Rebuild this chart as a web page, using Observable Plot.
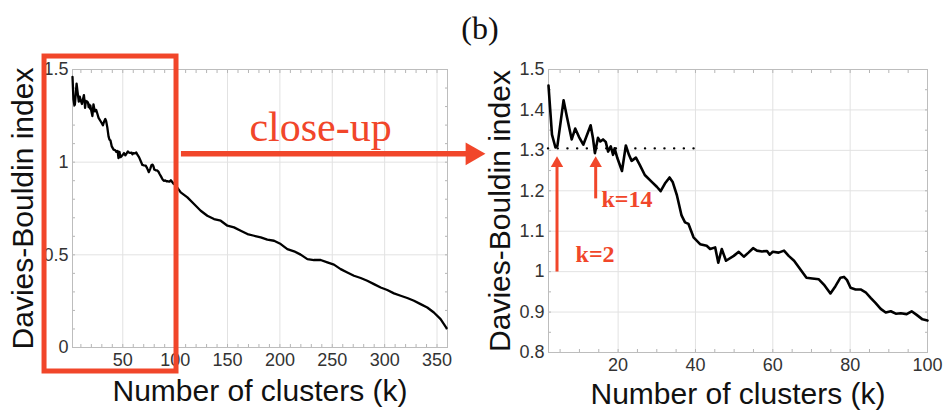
<!DOCTYPE html>
<html><head><meta charset="utf-8">
<script src="https://cdn.jsdelivr.net/npm/d3@7"></script>
<script src="https://cdn.jsdelivr.net/npm/@observablehq/plot@0.6"></script>
<style>
body{margin:0;background:#fff;}
#wrap{position:relative;width:948px;height:414px;overflow:hidden;background:#fff;}
#title{position:absolute;left:0;width:960px;top:8px;text-align:center;font-family:"Liberation Serif","Times New Roman",serif;font-size:32px;line-height:40px;color:#111;z-index:3}
#left{position:absolute;left:0;top:0;z-index:2}
#right{position:absolute;left:480px;top:0;z-index:1}
svg{overflow:visible;}
</style></head>
<body><div id="wrap"><div id="right"></div><div id="left"></div><div id="title">(b)</div></div>
<script>
// ---- data ----
const kNear = [2.0,2.9,3.8,4.3,5.9,6.8,8.0,8.9,9.9,11.0,12.9,13.5,14.0,14.8,15.4,16.1,16.8,17.4,18.1,18.7,19.1,19.8,21.0,22.0,22.8,23.5,24.6,25.6,26.9,28.7,30.0,31.0,32.1,33.3,34.1,35.2,36.4,37.3,38.2,39.5,41.2,42.9,43.8,45.1,45.9,46.8,47.9,49.9,51.2,52.5,53.7,54.9,55.9,57.2,58.5,59.2,60.0,61.5,62.9,64.1,65.5,67.1,68.7,70.2,71.9,73.2,74.9,76.2,77.5,78.4,79.2,80.1,81.4,82.7,84.0,85.3,86.6,87.9,89.2,90.5,91.8,93.1,94.6,95.9,97.2,98.7,100];
const dbNear = [1.46,1.339,1.307,1.311,1.424,1.381,1.327,1.354,1.333,1.314,1.362,1.33,1.293,1.331,1.322,1.327,1.321,1.297,1.31,1.289,1.305,1.281,1.249,1.312,1.289,1.274,1.282,1.264,1.239,1.222,1.21,1.199,1.218,1.233,1.222,1.189,1.139,1.122,1.118,1.085,1.068,1.064,1.056,1.06,1.022,1.056,1.027,1.039,1.049,1.037,1.047,1.058,1.052,1.05,1.051,1.042,1.049,1.047,1.052,1.039,1.027,1.006,0.985,0.983,0.981,0.968,0.946,0.964,0.985,0.987,0.979,0.96,0.956,0.956,0.949,0.935,0.922,0.908,0.899,0.902,0.896,0.897,0.895,0.902,0.893,0.882,0.879];
const kFar = [105.3,111.7,118,124.4,130.7,137.1,143.5,149.9,156.2,162.6,169,175.3,181.7,188,194.4,200.8,207.1,213.5,219.8,226.2,232.5,238.9,245.3,251.6,258,264.4,270.7,277.1,283.4,289.8,296.2,302.5,308.9,315.3,321.6,328,334.3,340.7,347,353.4,359.1];
const dbFar = [0.837,0.81,0.774,0.738,0.711,0.693,0.684,0.657,0.648,0.63,0.612,0.603,0.594,0.582,0.576,0.558,0.531,0.519,0.501,0.477,0.472,0.472,0.459,0.447,0.423,0.405,0.387,0.375,0.36,0.342,0.324,0.31,0.292,0.279,0.267,0.252,0.234,0.216,0.189,0.153,0.104];

const xTicksLeft = [50,100,150,200,250,300,350];
const yTicksLeft = [0,0.5,1,1.5];
const xTicksRight = [20,40,60,80,100];
const yTicksRight = [0.8,0.9,1.0,1.1,1.2,1.3,1.4,1.5];
const xLabel = "Number of clusters (k)";
const yLabel = "Davies-Bouldin index";
const closeUpText = "close-up";
const minIndex = 1.305;        // dotted reference level
const picks = [{k: 4.2, label: "k=2", from: 0.999, lx: 9.0, ly: 1.042},
               {k: 14.2, label: "k=14", from: 1.18, lx: 15.7, ly: 1.178}];

// ---- styles ----
const RED = "#f1462a";
const SANS = "'Liberation Sans', Arial, Helvetica, sans-serif";
const SERIF = "'Liberation Serif', 'Times New Roman', serif";
const fmt = d => String(+d.toFixed(2));

const near = kNear.map((k, i) => ({k, db: dbNear[i]}));
const all = near.concat(kFar.map((k, i) => ({k, db: dbFar[i]})));

function frameMarks(xt, yt, xMinor, yMinor) {
  return [
    Plot.gridX(xt, {stroke: "#e2e2e2", strokeOpacity: 1}),
    Plot.gridY(yt, {stroke: "#e2e2e2", strokeOpacity: 1}),
    Plot.axisX(xMinor, {anchor: "bottom", tickSize: -3, tickFormat: () => "", stroke: "#b5b5b5"}),
    Plot.axisX(xMinor, {anchor: "top", tickSize: -3, tickFormat: () => "", stroke: "#b5b5b5"}),
    Plot.axisY(yMinor, {anchor: "left", tickSize: -3, tickFormat: () => "", stroke: "#b5b5b5"}),
    Plot.axisY(yMinor, {anchor: "right", tickSize: -3, tickFormat: () => "", stroke: "#b5b5b5"}),
    Plot.frame({stroke: "#bdbdbd"}),
    Plot.axisX(xt, {anchor: "bottom", tickSize: 0, tickPadding: 6, tickFormat: fmt, label: null, fill: "#333", fontSize: 18}),
    Plot.axisY(yt, {anchor: "left", tickSize: 0, tickPadding: 4, tickFormat: fmt, label: null, fill: "#333", fontSize: 18})
  ];
}

function axisLabels(dxY, dyX) {
  return [
    Plot.text([yLabel], {frameAnchor: "left", dx: dxY, rotate: -90, text: d => d, textAnchor: "middle", lineAnchor: "middle", fontSize: 30, fill: "#111", fontFamily: SANS}),
    Plot.text([xLabel], {frameAnchor: "bottom", dy: dyX, text: d => d, textAnchor: "middle", lineAnchor: "middle", fontSize: 30, fill: "#111", fontFamily: SANS})
  ];
}

// ---- left panel ----
const left = Plot.plot({
  width: 490, height: 414,
  marginLeft: 72, marginRight: 43, marginTop: 69, marginBottom: 67,
  x: {domain: [2, 360]},
  y: {domain: [0, 1.5]},
  style: {fontFamily: SANS, fontSize: "18px", background: "transparent", overflow: "visible"},
  marks: [
    ...frameMarks(xTicksLeft, yTicksLeft, d3.range(10, 360, 10), d3.range(0.1, 1.5, 0.1)),
    Plot.line(all, {x: "k", y: "db", stroke: "#000", strokeWidth: 2.3}),
    Plot.rect([{x1: -24.7, x2: 101.3, y1: -0.1295, y2: 1.570}], {x1: "x1", x2: "x2", y1: "y1", y2: "y2", fill: "none", stroke: RED, strokeWidth: 5}),
    Plot.ruleY([{y: 1.045, x1: 106, x2: 382}], {y: "y", x1: "x1", x2: "x2", stroke: RED, strokeWidth: 5.5}),
    Plot.dot([{x: 383.6, y: 1.045}], {x: "x", y: "y", symbol: "triangle", r: 8.5, rotate: 90, fill: RED, stroke: null}),
    Plot.text([closeUpText], {x: () => 238.8, y: () => 1.189, text: d => d, fill: RED, fontFamily: SERIF, fontSize: 42}),
    ...axisLabels(-49, 44)
  ]
});
document.getElementById("left").appendChild(left);

// ---- right panel ----
const right = Plot.plot({
  width: 468, height: 414,
  marginLeft: 68, marginRight: 21, marginTop: 69, marginBottom: 62,
  x: {domain: [2, 100]},
  y: {domain: [0.8, 1.5]},
  style: {fontFamily: SANS, fontSize: "18px", background: "transparent", overflow: "visible"},
  marks: [
    ...frameMarks(xTicksRight, yTicksRight, d3.range(5, 100, 5), d3.range(0.85, 1.5, 0.05)),
    Plot.ruleY([minIndex], {x1: 2, x2: 40, stroke: "#000", strokeWidth: 2.4, strokeDasharray: "0.1,9.6", strokeLinecap: "round"}),
    Plot.line(near, {x: "k", y: "db", stroke: "#000", strokeWidth: 2.6}),
    Plot.ruleX(picks, {x: "k", y1: "from", y2: () => 1.268, stroke: RED, strokeWidth: 3}),
    Plot.dot(picks, {x: "k", y: () => 1.2675, symbol: "triangle", r: 4.6, fill: RED, stroke: null}),
    Plot.text(picks, {x: "lx", y: "ly", text: "label", textAnchor: "start", fill: RED, fontFamily: SERIF, fontWeight: "bold", fontSize: 24}),
    ...axisLabels(-48, 42)
  ]
});
document.getElementById("right").appendChild(right);
</script>
</body></html>
